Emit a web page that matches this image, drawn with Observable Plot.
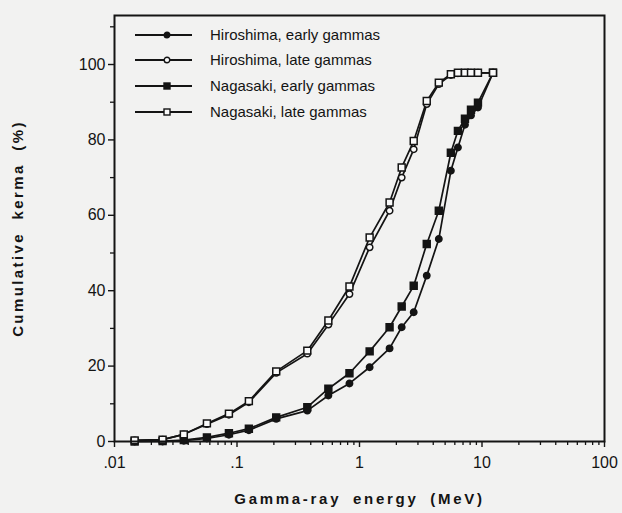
<!DOCTYPE html>
<html>
<head>
<meta charset="utf-8">
<script src="https://cdn.jsdelivr.net/npm/d3@7"></script>
<script src="https://cdn.jsdelivr.net/npm/@observablehq/plot@0.6"></script>
<style>
  html, body { margin: 0; padding: 0; background: #f2f2f1; }
  #chart { width: 622px; height: 513px; }
</style>
</head>
<body>
<div id="chart"></div>
<script>
// Gamma-ray energy (MeV) of each plotted point
const energies = [0.0146, 0.0247, 0.0368, 0.0568, 0.0859, 0.125, 0.209, 0.375, 0.557, 0.828,
                  1.21, 1.76, 2.21, 2.77, 3.54, 4.44, 5.57, 6.36, 7.26, 8.13, 9.27, 12.3];
// Cumulative kerma (%)
const hiroshimaEarly = [0, 0, 0.2, 0.8, 1.8, 3.0, 6.0, 8.2, 12.2, 15.4, 19.7, 24.7, 30.3, 34.3, 44.0, 53.7, 71.8, 78.0, 84.0, 86.5, 88.6, 97.8];
const hiroshimaLate  = [0.3, 0.5, 1.9, 4.6, 7.1, 10.4, 18.2, 23.3, 31.0, 39.1, 51.5, 61.2, 70.0, 77.5, 89.5, 94.8, 97.2, 97.7, 97.8, 97.8, 97.8, 97.8];
const nagasakiEarly  = [0, 0.1, 0.4, 1.1, 2.2, 3.4, 6.4, 9.1, 14.0, 18.1, 23.9, 30.3, 35.8, 41.3, 52.4, 61.2, 76.6, 82.4, 85.6, 88.0, 89.9, 97.8];
const nagasakiLate   = [0.3, 0.5, 1.9, 4.8, 7.4, 10.7, 18.6, 24.1, 32.1, 41.1, 54.1, 63.4, 72.7, 79.7, 90.3, 95.2, 97.4, 97.8, 97.8, 97.8, 97.8, 97.8];

const seriesNames = ["Hiroshima, early gammas", "Hiroshima, late gammas", "Nagasaki, early gammas", "Nagasaki, late gammas"];
const seriesValues = [hiroshimaEarly, hiroshimaLate, nagasakiEarly, nagasakiLate];
const seriesSymbol = ["circle", "circle", "square", "square"];
const seriesFilled = [true, false, true, false];

const xMajor = [0.01, 0.1, 1, 10, 100];
const xMajorLabels = [".01", ".1", "1", "10", "100"];
const xMinor = [];
for (const d of [0.01, 0.1, 1, 10]) for (let k = 2; k <= 9; k++) xMinor.push(+(d * k).toPrecision(3));
const yMajor = [0, 20, 40, 60, 80, 100];
const yMinor = [10, 30, 50, 70, 90, 110];

const xTitle = "Gamma-ray energy (MeV)";
const yTitle = "Cumulative kerma (%)";

const rows = [];
seriesNames.forEach((name, i) => {
  energies.forEach((e, j) => rows.push({series: name, energy: e, kerma: seriesValues[i][j], si: i}));
});

const ink = "#141414";
const lineMarks = seriesNames.map((name, i) =>
  Plot.line(rows.filter(r => r.si === i), {x: "energy", y: "kerma", stroke: ink, strokeWidth: 1.7}));
const dotMarks = seriesNames.map((name, i) =>
  Plot.dot(rows.filter(r => r.si === i), {
    x: "energy", y: "kerma",
    symbol: () => seriesSymbol[i],
    r: seriesSymbol[i] === "square" ? 3.9 : 3.2,
    fill: seriesFilled[i] ? ink : "#fafafa",
    stroke: ink, strokeWidth: 1.5
  }));

const plot = Plot.plot({
  width: 622,
  height: 513,
  marginLeft: 114,
  marginRight: 18,
  marginTop: 15,
  marginBottom: 72,
  style: {background: "transparent", fontFamily: "'Liberation Sans', Arial, sans-serif", fontSize: "16px", color: ink},
  x: {type: "log", domain: [0.01, 100]},
  y: {domain: [0, 113]},
  symbol: {type: "identity"},
  marks: [
    Plot.axisX({ticks: xMajor, tickFormat: d => xMajorLabels[xMajor.indexOf(d)], tickSize: 6, tickPadding: 9, label: null, strokeWidth: 1.4}),
    Plot.axisX({ticks: xMinor, tickFormat: () => "", tickSize: 4, label: null, strokeWidth: 1.3}),
    Plot.axisY({ticks: yMajor, tickSize: 6, tickPadding: 3, label: null, strokeWidth: 1.4}),
    Plot.axisY({ticks: yMinor, tickFormat: () => "", tickSize: 4, label: null, strokeWidth: 1.3}),
    ...lineMarks,
    ...dotMarks,
    Plot.frame({stroke: ink, strokeWidth: 2}),
    Plot.text([xTitle], {frameAnchor: "bottom", dy: 62, fontWeight: "bold", fontSize: 15, fill: ink}),
    Plot.text([yTitle], {frameAnchor: "left", dx: -96, rotate: -90, textAnchor: "middle", fontWeight: "bold", fontSize: 15, fill: ink})
  ]
});

const svg = d3.select(plot);
svg.selectAll("text").filter(function () { return this.textContent === xTitle; })
  .attr("letter-spacing", 2.7).attr("word-spacing", 5);
svg.selectAll("text").filter(function () { return this.textContent === yTitle; })
  .attr("letter-spacing", 2.4).attr("word-spacing", 6);

// Legend inside the plot area (top-left)
const leg = svg.append("g")
  .attr("font-family", "'Liberation Sans', Arial, sans-serif")
  .attr("font-size", 15)
  .attr("text-anchor", "start");
const rowY = [35, 60, 86, 112];
seriesNames.forEach((name, i) => {
  const g = leg.append("g").attr("transform", `translate(0,${rowY[i]})`);
  g.append("line").attr("x1", 135).attr("x2", 192).attr("y1", 0).attr("y2", 0)
    .attr("stroke", ink).attr("stroke-width", 1.9);
  const fill = seriesFilled[i] ? ink : "#fafafa";
  if (seriesSymbol[i] === "circle") {
    g.append("circle").attr("cx", 167).attr("cy", 0).attr("r", 2.8)
      .attr("fill", fill).attr("stroke", ink).attr("stroke-width", 1.4);
  } else {
    g.append("rect").attr("x", 164).attr("y", -3).attr("width", 6).attr("height", 6)
      .attr("fill", fill).attr("stroke", ink).attr("stroke-width", 1.4);
  }
  g.append("text").attr("x", 210).attr("y", 5).attr("text-anchor", "start").attr("fill", ink).text(name);
});

document.getElementById("chart").appendChild(plot);
</script>
</body>
</html>
